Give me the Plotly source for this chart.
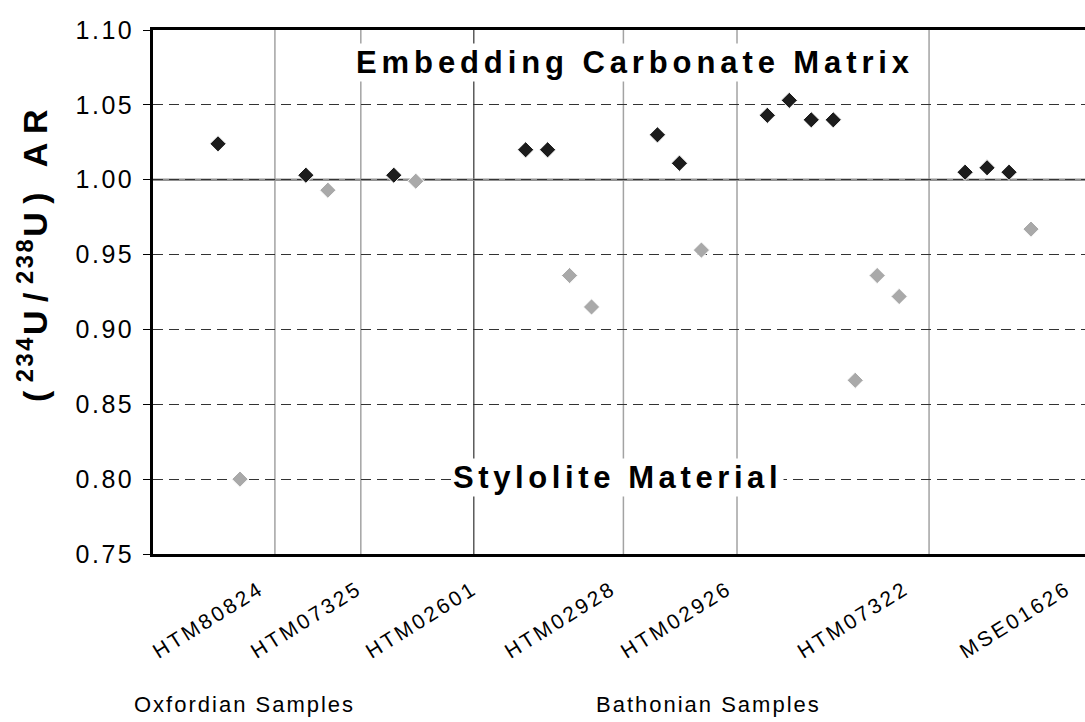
import plotly.graph_objects as go

# ---------------- data ----------------
samples = ["HTM80824", "HTM07325", "HTM02601", "HTM02928", "HTM02926", "HTM07322", "MSE01626"]
periods = ["Oxfordian", "Oxfordian", "Oxfordian", "Bathonian", "Bathonian", "Bathonian", "Bathonian"]
carbonate_values = [
    [1.024],
    [1.003],
    [1.003],
    [1.020, 1.020],
    [1.030, 1.011],
    [1.043, 1.053, 1.040, 1.040],
    [1.005, 1.008, 1.005],
]
stylolite_values = [
    [0.800],
    [0.993],
    [0.999],
    [0.936, 0.915],
    [0.953],
    [0.866, 0.936, 0.922],
    [0.967],
]
y_ticks = [0.75, 0.80, 0.85, 0.90, 0.95, 1.00, 1.05, 1.10]

# ---------------- layout helpers (slot positions on the sample axis) ----------------
FONT = "Liberation Sans, Arial, Helvetica, sans-serif"
BLACK = "#1c1c1c"
GREY = "#a9a9a9"

carb_x, carb_y, styl_x, styl_y = [], [], [], []
slot = 3
prev_period = periods[0]
for s, p, cv, sv in zip(samples, periods, carbonate_values, stylolite_values):
    if p != prev_period:
        slot += 2
        prev_period = p
    for v in cv:
        carb_x.append(slot); carb_y.append(v); slot += 1
    for v in sv:
        styl_x.append(slot); styl_y.append(v); slot += 1
    slot += 2

label_pos = [4.91, 9.37, 14.61, 20.93, 26.21, 34.26, 41.64]
separators = [5.59, 9.50, 14.64, 21.45, 26.62, 35.36]
period_sep = 14.64

def spaced(t, sp):
    return f'<span style="letter-spacing:{sp}px">{t}</span>'

W, H = 1085, 722
ML, MR, MT, MB = 153, 0, 30, 168
pw, ph = W - ML - MR, H - MT - MB

fig = go.Figure()
fig.add_trace(go.Scatter(
    x=carb_x, y=carb_y, mode="markers", name="Embedding Carbonate Matrix",
    marker=dict(symbol="diamond", size=12.5, color=BLACK, line=dict(color="white", width=1)),
    showlegend=False, cliponaxis=False))
fig.add_trace(go.Scatter(
    x=styl_x, y=styl_y, mode="markers", name="Stylolite Material",
    marker=dict(symbol="diamond", size=12.5, color=GREY, line=dict(color="white", width=1)),
    showlegend=False, cliponaxis=False))

shapes = []
for sx in separators:
    shapes.append(dict(type="line", xref="x", yref="paper", x0=sx, x1=sx, y0=0, y1=1,
                       line=dict(color="#5a5a5a" if sx == period_sep else "#a3a3a3", width=1.5),
                       layer="below"))
shapes.append(dict(type="line", xref="paper", yref="y", x0=0, x1=1, y0=1.0, y1=1.0,
                   line=dict(color="#929292", width=2.4), layer="below"))
fig.update_layout(shapes=shapes)

SM, SS = 8.5, 2.5
ytitle = ("<b>" + spaced("(", SM) + "<sup>" + spaced("234", SS) + "</sup>" + spaced("U/", SM)
          + "<sup>" + spaced("238", SS) + "</sup>" + spaced("U) AR", SM) + "</b>")

annotations = [
    dict(text="<b>" + spaced("Embedding Carbonate Matrix", 4.9) + "</b>", x=22.0, y=1.0785,
         xref="x", yref="y", showarrow=False, font=dict(family=FONT, size=31, color="black"),
         bgcolor="white", xanchor="center", yanchor="middle"),
    dict(text="<b>" + spaced("Stylolite Material", 4.6) + "</b>", x=21.2, y=0.801,
         xref="x", yref="y", showarrow=False, font=dict(family=FONT, size=31, color="black"),
         bgcolor="white", xanchor="center", yanchor="middle"),
    dict(text=ytitle,
         x=(32 - ML) / pw, y=(H - MB - 252) / ph,
         xref="paper", yref="paper", showarrow=False, textangle=-90,
         font=dict(family=FONT, size=34, color="black"), xanchor="center", yanchor="middle"),
    dict(text=spaced("Oxfordian Samples", 2), x=4.2, y=-0.288, xref="x", yref="paper",
         showarrow=False, font=dict(family=FONT, size=22, color="black"),
         xanchor="center", yanchor="middle"),
    dict(text=spaced("Bathonian Samples", 2), x=25.3, y=-0.288, xref="x", yref="paper",
         showarrow=False, font=dict(family=FONT, size=22, color="black"),
         xanchor="center", yanchor="middle"),
]
fig.update_layout(annotations=annotations)

fig.update_layout(
    width=W, height=H, margin=dict(l=ML, r=MR, t=MT, b=MB, pad=0),
    paper_bgcolor="white", plot_bgcolor="white",
    font=dict(family=FONT, color="black"),
    xaxis=dict(range=[0.042, 42.457], showgrid=False, zeroline=False,
               showline=True, linecolor="black", linewidth=2.5, mirror=True,
               tickmode="array", tickvals=label_pos,
               ticktext=[spaced(s, 2.8) for s in samples], tickangle=-32, ticks="",
               ticklabelstandoff=12,
               tickfont=dict(family=FONT, size=21, color="black")),
    yaxis=dict(range=[0.75, 1.10], showgrid=True, gridcolor="#333333", gridwidth=1,
               griddash="10px,6px", zeroline=False,
               showline=True, linecolor="black", linewidth=2.5, mirror=False,
               tickmode="array", tickvals=y_ticks,
               ticktext=[spaced(f"{v:.2f}", 2.5) for v in y_ticks],
               ticks="outside", ticklen=7, tickwidth=1, tickcolor="black",
               ticklabelstandoff=4,
               tickfont=dict(family=FONT, size=25, color="black")),
)

fig.write_html("out.html", config={"displayModeBar": False},
               post_script="document.body.style.margin='0';document.body.style.overflow='hidden';")
